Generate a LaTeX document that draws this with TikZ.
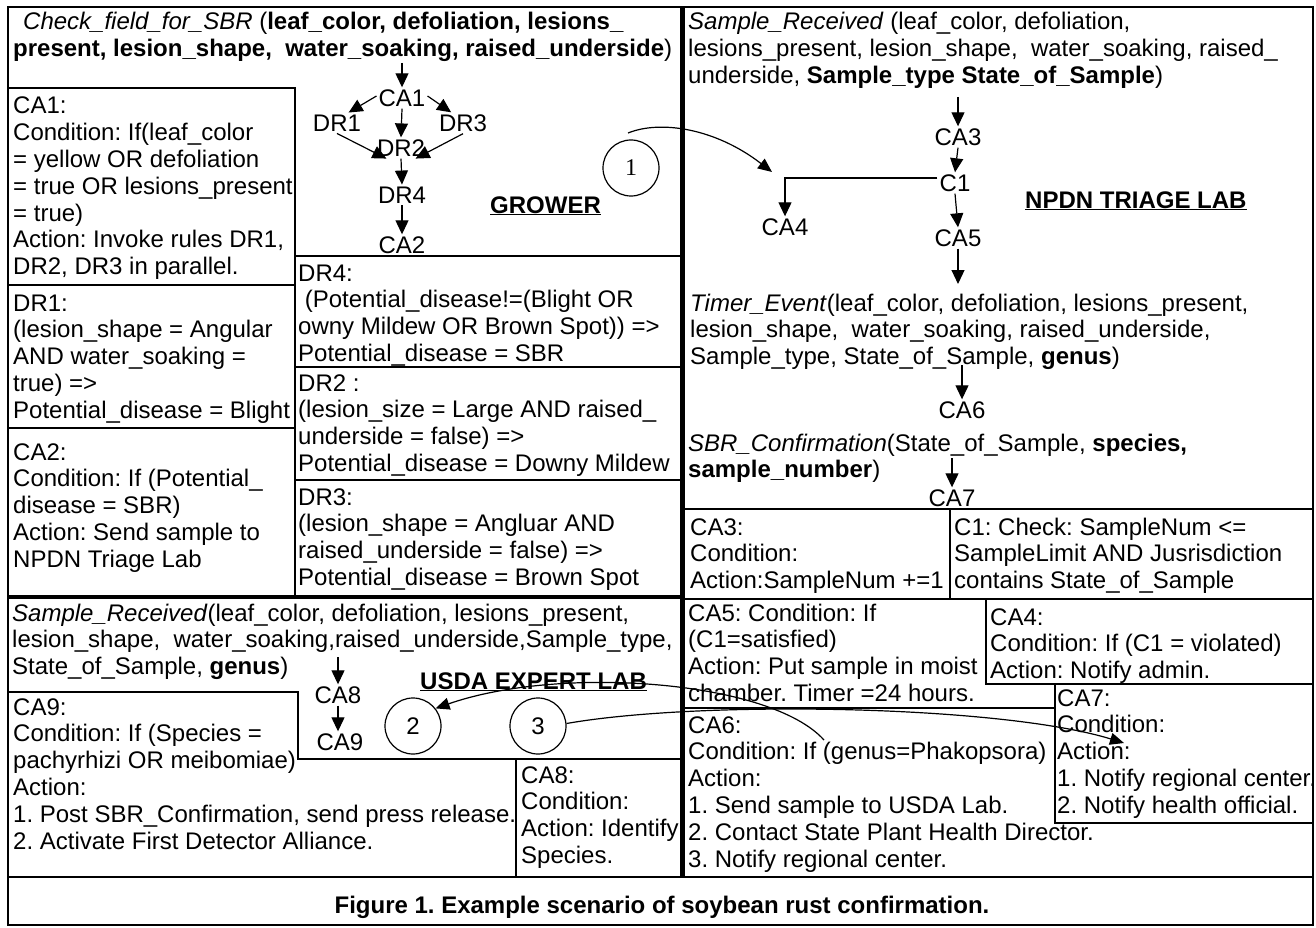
\documentclass[tikz,border=0pt]{standalone}
\usepackage{fontspec}
\setmainfont{Liberation Sans}
\newfontfamily\serifnum{Liberation Serif}
\usetikzlibrary{arrows.meta}
\frenchspacing
\newcommand\blk[1]{\begin{tabular}[t]{@{}l@{}}#1\end{tabular}}
\begin{document}
\frenchspacing
\begin{tikzpicture}[x=1pt,y=-1pt,font=\fontsize{24}{26.8}\selectfont,
  txt/.style={anchor=base west,inner sep=0pt},
  gn/.style={inner sep=2pt},
  arr/.style={-{Triangle[length=14pt,width=13pt]},line width=1.2pt},
  carr/.style={-{Triangle[length=14pt,width=12pt]},line width=1.2pt},
  thinl/.style={line width=1.3pt},
  circ/.style={draw,circle,minimum size=56pt,inner sep=0pt,line width=1.2pt}]
\useasboundingbox (0,0) rectangle (1316,928);
\fill[white] (0,0) rectangle (1316,928);

% ---------- frame ----------
\draw[line width=2pt] (8,7) rectangle (1313,925);
\draw[line width=2pt] (8,877) -- (1313,877);
\draw[line width=4.5pt] (8,597) -- (682,597);
\draw[line width=5pt] (682,7) -- (682,877);

% ---------- GROWER panel ----------
\draw[thinl] (8,88) -- (295,88) -- (295,597);
\draw[thinl] (295,256) -- (682,256);
\draw[thinl] (8,285) -- (295,285);
\draw[thinl] (8,428) -- (295,428);
\draw[thinl] (295,367) -- (682,367);
\draw[thinl] (295,480) -- (682,480);

\node[txt] (ttl1) at (13,30) {\blk{\hspace*{10pt}\textit{Check\_field\_for\_SBR} (\textbf{leaf\_color, defoliation, lesions\_}\\
\textbf{present, lesion\_shape,\ \ water\_soaking, raised\_underside})}};
\node[txt] (bca1) at (13,114) {\blk{CA1:\\Condition: If(leaf\_color\\= yellow OR defoliation\\= true OR lesions\_present\\= true)\\Action: Invoke rules DR1,\\DR2, DR3 in parallel.}};
\node[txt] (bdr1) at (13,311) {\blk{DR1:\\(lesion\_shape = Angular\\AND water\_soaking =\\true) =>\\Potential\_disease = Blight}};
\node[txt] (bca2) at (13,460) {\blk{CA2:\\Condition: If (Potential\_\\disease = SBR)\\Action: Send sample to\\NPDN Triage Lab}};
\node[txt] (bdr4) at (298,281) {\blk{DR4:\\\ (Potential\_disease!=(Blight OR\\owny Mildew OR Brown Spot)) =>\\Potential\_disease = SBR}};
\node[txt] (bdr2) at (298,391) {\blk{DR2 :\\(lesion\_size = Large AND raised\_\\underside = false) =>\\Potential\_disease = Downy Mildew}};
\node[txt] (bdr3) at (298,505) {\blk{DR3:\\(lesion\_shape = Angluar AND\\raised\_underside = false) =>\\Potential\_disease = Brown Spot}};

\node[gn] (ca1) at (402,98) {CA1};
\node[gn] (dr1) at (337,123) {DR1};
\node[gn] (dr3) at (463,123) {DR3};
\node[gn] (dr2) at (401,148) {DR2};
\node[gn] (dr4) at (402,195) {DR4};
\node[gn] (ca2) at (402,245) {CA2};
\coordinate (t1) at (402,63);
\draw[arr] (t1) -- (ca1.north);
\draw[arr] ([yshift=2pt]ca1.west) -- (dr1.42);
\draw[arr] ([yshift=2pt]ca1.east) -- (dr3.138);
\draw[arr] (ca1.south) -- (dr2.north);
\draw[arr] (dr1.south) -- (dr2.216);
\draw[arr] (dr3.south) -- (dr2.324);
\draw[arr] (dr2.south) -- (dr4.north);
\draw[arr] (dr4.south) -- (ca2.north);
\node[txt] (grower) at (490,213) {\textbf{\underline{GROWER}}};
\node[circ] (n1) at (631,168) {\serifnum 1};

% ---------- NPDN panel ----------
\draw[thinl] (682,509) -- (1313,509);
\draw[thinl] (950,509) -- (950,599);
\draw[thinl] (682,599) -- (1313,599);

\node[txt] (ttl2) at (688,30) {\blk{\textit{Sample\_Received} (leaf\_color, defoliation,\\
lesions\_present, lesion\_shape,\ \ water\_soaking, raised\_\\
underside, \textbf{Sample\_type State\_of\_Sample})}};
\node[gn] (ca3) at (958,137) {CA3};
\node[gn] (c1) at (955,183) {C1};
\node[gn] (ca4) at (785,227) {CA4};
\node[gn] (ca5) at (958,238) {CA5};
\coordinate (t2) at (958,97);
\draw[arr] (t2) -- (ca3.north);
\draw[arr] (ca3.south) -- (c1.north);
\draw[arr] ([yshift=5pt]c1.west) -| (ca4.north);
\draw[arr] (c1.south) -- (ca5.north);
\node[txt] (npdn) at (1025,208) {\textbf{\underline{NPDN TRIAGE LAB}}};

\coordinate (tmr) at (958,284);
\draw[arr] (ca5.south) -- (tmr);
\node[txt] (btimer) at (690,311) {\blk{\textit{Timer\_Event}(leaf\_color, defoliation, lesions\_present,\\
lesion\_shape,\ \ water\_soaking, raised\_underside,\\
Sample\_type, State\_of\_Sample, \textbf{genus})}};
\node[gn] (ca6) at (962,410) {CA6};
\coordinate (t3) at (962,365);
\draw[arr] (t3) -- (ca6.north);
\node[txt] (bsbr) at (688,451) {\blk{\textit{SBR\_Confirmation}(State\_of\_Sample, \textbf{species,}\\
\textbf{sample\_number})}};
\node[gn] (ca7) at (952,498) {CA7};
\coordinate (t4) at (952,458);
\draw[arr] (t4) -- (ca7.north);
\node[txt] (bca3) at (690,535) {\blk{CA3:\\Condition:\\Action:SampleNum +=1}};
\node[txt] (bc1) at (954,535) {\blk{C1: Check: SampleNum <=\\SampleLimit AND Jusrisdiction\\contains State\_of\_Sample}};

% ---------- bottom right ----------
\draw[thinl] (986,599) -- (986,684) -- (1313,684);
\draw[thinl] (682,708) -- (1055,708);
\draw[thinl] (1055,684) -- (1055,823) -- (1313,823);
\node[txt] (bca5) at (688,621) {\blk{CA5: Condition: If\\(C1=satisfied)\\Action: Put sample in moist\\chamber. Timer =24 hours.}};
\node[txt] (bca4) at (990,625) {\blk{CA4:\\Condition: If (C1 = violated)\\Action: Notify admin.}};
\node[txt] (bca7) at (1057,706) {\blk{CA7:\\Condition:\\Action:\\1. Notify regional center.\\2. Notify health official.}};
\node[txt] (bca6) at (688,733) {\blk{CA6:\\Condition: If (genus=Phakopsora)\\Action:\\1. Send sample to USDA Lab.\\2. Contact State Plant Health Director.\\3. Notify regional center.}};

% ---------- USDA panel ----------
\draw[thinl] (8,692) -- (298,692) -- (298,759) -- (682,759);
\draw[thinl] (516,759) -- (516,877);
\node[txt] (ttl3) at (12,621) {\blk{\textit{Sample\_Received}(leaf\_color, defoliation, lesions\_present,\\
lesion\_shape,\ \ water\_soaking,raised\_underside,Sample\_type,\\
State\_of\_Sample, \textbf{genus})}};
\node[txt] (bca9) at (13,715) {\blk{CA9:\\Condition: If (Species =\\pachyrhizi OR meibomiae)\\Action:\\1. Post SBR\_Confirmation, send press release.\\2. Activate First Detector Alliance.}};
\node[txt] (bca8) at (521,783) {\blk{CA8:\\Condition:\\Action: Identify\\Species.}};
\node[gn] (ca8) at (338,695) {CA8};
\node[gn] (ca9) at (340,742) {CA9};
\coordinate (t5) at (338,657);
\draw[arr] (t5) -- (ca8.north);
\draw[arr] (ca8.south) -- (ca8.south |- ca9.north);
\node[txt] (usda) at (420,689) {\textbf{\underline{USDA EXPERT LAB}}};
\node[circ] (n2) at (413,726) {2};
\node[circ] (n3) at (538,726) {3};

% ---------- curved connectors ----------
\coordinate (a1s) at (628,133);
\coordinate (a1e) at (772,172);
\draw[carr] (a1s) .. controls (660,120) and (715,128) .. (a1e);
\coordinate (a2s) at (824,740);
\draw[carr] (a2s) .. controls (770,680) and (560,665) .. (n2.38);
\coordinate (a3e) at (1124,743);
\draw[carr] (n3.5) .. controls (700,700) and (1000,705) .. (a3e);

% ---------- caption ----------
\node[anchor=base,inner sep=0pt] (cap) at (662,913) {\textbf{Figure 1. Example scenario of soybean rust confirmation.}};
\end{tikzpicture}
\end{document}
